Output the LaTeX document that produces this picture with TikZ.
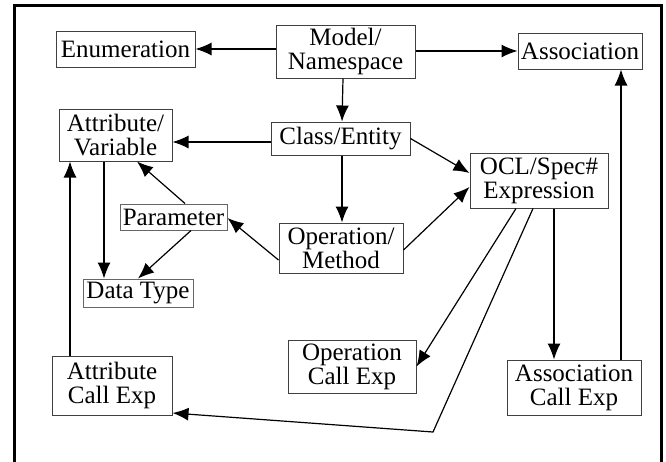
\documentclass[tikz,border=0pt]{standalone}
\usepackage{fontspec}
\setmainfont{Liberation Serif}
\usetikzlibrary{arrows.meta}
\begin{document}
\begin{tikzpicture}[x=1pt,y=-1pt,
  box/.style={draw=black!75,line width=1pt,inner sep=0pt,align=center,
    font=\fontsize{25}{24}\selectfont},
  conn/.style={line width=1.2pt,-{Latex[length=16pt,width=13pt]}}]
\useasboundingbox (0,0) rectangle (666,461);
\draw[line width=3pt] (14,470) -- (14,5) -- (661,5) -- (661,470);
\node[box,minimum width=139pt,minimum height=36pt] (enum) at (125.5,49) {Enumeration};
\node[box,minimum width=139pt,minimum height=53pt] (model) at (345.5,51.5) {Model/\\Namespace};
\node[box,minimum width=124pt,minimum height=36pt] (assoc) at (580,51) {Association};
\node[box,minimum width=113pt,minimum height=52pt] (attr) at (115.5,135) {Attribute/\\Variable};
\node[box,minimum width=139pt,minimum height=33pt] (class) at (340.5,138.5) {Class/Entity};
\node[box,minimum width=138pt,minimum height=55pt] (ocl) at (539,180.5) {OCL/Spec\#\\Expression};
\node[box,draw=black!60,minimum width=107pt,minimum height=26pt] (param) at (173.5,217) {Parameter};
\node[box,minimum width=124pt,minimum height=50pt] (op) at (341,248) {Operation/\\Method};
\node[box,draw=black!60,minimum width=110pt,minimum height=28pt] (dtype) at (138,293) {Data Type};
\node[box,minimum width=128pt,minimum height=53pt] (opcall) at (352,366.5) {Operation\\Call Exp};
\node[box,minimum width=120pt,minimum height=59pt] (attrcall) at (112,385.5) {Attribute\\Call Exp};
\node[box,minimum width=134pt,minimum height=55pt] (assoccall) at (574,387.5) {Association\\Call Exp};
\coordinate (bend) at (433,432);
% edges
\draw[conn] (model.west |- enum.east) -- (enum.east);
\draw[conn] (model.east |- assoc.west) -- (assoc.west);
\draw[conn] ([xshift=-2.5pt]model.south) -- ([xshift=1.5pt]class.north);
\draw[conn] ([yshift=-3.5pt]class.west) -- ([yshift=-3.5pt]class.west -| attr.east);
\draw[conn] (class.east) -- ([yshift=7.5pt]ocl.west);
\draw[conn] ([xshift=1.5pt]class.south) -- ([xshift=1pt]op.north);
\draw[conn] ([yshift=-2pt]op.east) -- ([yshift=-6.5pt]ocl.west);
\draw[conn] ([yshift=-12pt]op.west) -- ([yshift=-1pt]param.east);
\draw[conn] ([xshift=11.5pt]param.north) -- ([xshift=21.5pt]attr.south);
\draw[conn] ([xshift=17.5pt]param.south) -- (dtype.north);
\draw[conn] ([xshift=-11.5pt]attr.south) -- ([xshift=-11.5pt]attr.south |- dtype.north);
\draw[conn] ([xshift=-42pt]attrcall.north) -- ([xshift=-42pt]attrcall.north |- attr.south);
\draw[conn] ([xshift=-23pt]ocl.south) -- (opcall.east);
\draw[conn] ([xshift=-6pt]ocl.south) -- (bend) -- ([yshift=-27.5pt]attrcall.east);
\draw[conn] ([xshift=15pt]ocl.south) -- ([xshift=15pt]ocl.south |- assoccall.north);
\draw[conn] ([xshift=47pt]assoccall.north) -- ([xshift=47pt]assoccall.north |- assoc.south);
\end{tikzpicture}
\end{document}
